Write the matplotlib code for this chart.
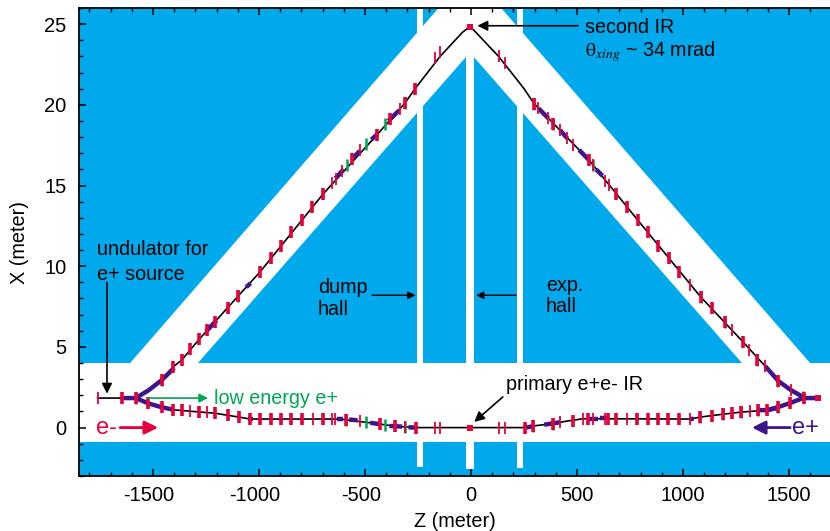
import matplotlib
matplotlib.use('Agg')
import matplotlib.pyplot as plt
from matplotlib.ticker import MultipleLocator
from matplotlib.transforms import ScaledTranslation

plt.rcParams['font.family'] = ['Liberation Sans', 'DejaVu Sans']
plt.rcParams['axes.unicode_minus'] = False

BLUE = '#00A9EC'
RED = '#E4003A'
PURPLE = '#3F1488'
GREEN = '#00A651'

# hall outline (white on blue)
band_z = [-1608, -153, 142, 1599, 1278, 14, -25, -1288]
band_x = [4, 26, 26, 4, 4, 22.95, 22.95, 4]
strip_left = [-255, -226]
strip_mid = [-25, 14]
strip_right = [217, 244]
strip_bottoms = [-2.43, -2.59, -2.5]
floor_band = [-0.88, 4]

# beam lines
lower_z = [-1761, -1582, -1522, -1459, -1404, -1208, -1094, -1042, -618, -556, -457, -358, -259,
           254, 293, 388, 451, 530, 1033, 1080, 1189, 1274, 1396, 1448, 1505, 1566, 1637]
lower_x = [1.83, 1.83, 1.5, 1.26, 1.1, 0.89, 0.65, 0.53, 0.53, 0.42, 0.27, 0.08, 0,
           0, 0.1, 0.25, 0.4, 0.55, 0.53, 0.65, 0.83, 0.96, 1.08, 1.27, 1.52, 1.83, 1.83]
upper_z = [-1582, -1522, -1459, -1404, -1365, -1283, -1097, -995, -698, -445, -311, -264, -146, -40, -5,
           15, 130, 250, 297, 557, 786, 1083, 1282, 1387, 1450, 1509, 1566]
upper_x = [1.83, 2.3, 2.94, 3.77, 4.18, 5.46, 8.17, 9.65, 14.47, 18.12, 20.12, 21, 23, 24.5, 24.85,
           24.6, 23, 21, 20.08, 16.57, 12.86, 8.1, 5.32, 3.81, 2.88, 2.32, 1.9]

# magnets along the beam lines
red_z = [-1648, -1582, -1522, -1459, -1404, -1365, -1283, -1208, -1148, -1094,
         -1042, -995, -945, -896, -849, -799, -699, -591, -429, -358, -259,
         255, 293, 388, 483, 553, 648, 684, 784, 833,
         881, 931, 981, 1080, 1137, 1189, 1231, 1274, 1354, 1396, 1448, 1505, 1570,
         -1459, -1404, -1365, -1325, -1283, -1244, -1208, -1148, -1097, -995, -945, -896, -848, -797,
         -748, -698, -563, -445, -382, -311, -264,
         297, 388, 557, 684, 734, 786, 835, 884, 934,
         981, 1083, 1135, 1198, 1282, 1350, 1450]
red_x = [1.83, 1.83, 1.5, 1.26, 1.1, 1.1, 0.98, 0.89, 0.75, 0.65,
         0.53, 0.53, 0.53, 0.53, 0.53, 0.53, 0.53, 0.5, 0.2, 0.08, 0,
         0, 0.1, 0.25, 0.43, 0.55, 0.55, 0.53, 0.53, 0.53,
         0.53, 0.53, 0.53, 0.65, 0.71, 0.83, 0.9, 0.96, 1.08, 1.08, 1.27, 1.52, 1.83,
         2.94, 3.77, 4.18, 4.86, 5.46, 6.04, 6.52, 7.38, 8.17, 9.65, 10.48, 11.27, 12.09, 12.86,
         13.68, 14.47, 16.62, 18.12, 19.1, 20.12, 21,
         20.08, 18.8, 16.57, 14.47, 13.68, 12.86, 12.09, 11.25, 10.48,
         9.65, 8.1, 7.38, 6.56, 5.32, 4.21, 2.88]
# the narrow ones
thin_red_z = [-1761, -1325, -1247, -747, -657, -641, -523, -311, -170, -146, 134, 160, 420, 530, 577, 632, 734, 1033,
              1316, -657, -637, -608, -524, -335, -170, -146,
              130, 160, 318, 365, 420, 454, 480, 574, 632, 651, 1034, 1233, 1313, 1387, 1509]
thin_red_x = [1.83, 1.03, 0.96, 0.53, 0.53, 0.53, 0.4, 0.03, 0, 0, 0, 0, 0.35, 0.55, 0.55, 0.55, 0.53, 0.53,
              1.02, 15.13, 15.38, 15.89, 17.19, 19.72, 22.9, 23.3,
              23, 22.6, 19.78, 19.16, 18.43, 17.92, 17.5, 16.26, 15.27, 15.03, 8.83, 6.04, 4.83, 3.81, 2.32]
box_z = [-5, -5, 1637]
box_x = [0, 24.85, 1.83]
green_z = [-1582, -591, -495, -406, -311, 293, 388, 1080, 1189, 1274, 1354, 1448,
           -1459, -1097, -586, -495, -406, -311, 297, 388, 574, 1083, 1198, 1350, 1450, 1566]
green_x = [1.83, 0.5, 0.33, 0.18, 0.03, 0.1, 0.25, 0.65, 0.83, 0.96, 1.08, 1.27,
           2.94, 8.17, 16.26, 17.56, 18.8, 20.1, 20.08, 18.8, 16.26, 8.1, 6.56, 4.21, 2.9, 1.9]

# thick purple stretches, each one (z list, x list)
purple_segments = [
    ([-1640, -1582, -1522, -1459, -1400], [1.83, 1.83, 1.5, 1.26, 1.1]),
    ([-1582, -1522, -1459, -1400], [1.83, 2.3, 2.94, 3.7]),
    ([-1250, -1200], [5.95, 6.65]),
    ([-1060, -1040], [8.7, 8.95]),
    ([-640, -600], [15.45, 16.0]),
    ([-555, -525], [16.72, 17.15]),
    ([-470, -440], [17.85, 18.2]),
    ([-390, -340], [19.0, 19.65]),
    ([318, 365], [19.78, 19.16]),
    ([420, 454], [18.43, 17.92]),
    ([510, 557], [17.2, 16.57]),
    ([590, 620], [16.0, 15.6]),
    ([1387, 1450, 1509, 1566], [3.81, 2.88, 2.32, 1.9]),
    ([1637, 1566, 1505, 1448, 1396, 1354], [1.83, 1.83, 1.52, 1.27, 1.08, 1.08]),
    ([-1050, -1030], [0.53, 0.53]),
    ([-630, -605], [0.55, 0.55]),
    ([-575, -535], [0.5, 0.45]),
    ([-475, -435], [0.3, 0.22]),
    ([-385, -325], [0.1, 0.06]),
    ([-295, -265], [0.02, 0]),
    ([260, 290], [0, 0.08]),
    ([345, 420], [0.18, 0.33]),
    ([545, 600], [0.55, 0.55]),
    ([610, 640], [0.6, 0.6]),
    ([1035, 1050], [0.53, 0.55]),
    ([1396, 1440], [1.08, 1.2]),
]

x_major = [-1500, -1000, -500, 0, 500, 1000, 1500]
y_major = [0, 5, 10, 15, 20, 25]


def arrow(ax, start, end, color='black', lw=1.2, scale=15):
    ax.annotate('', xy=end, xytext=start, zorder=6,
                arrowprops=dict(arrowstyle='-|>', color=color, lw=lw, mutation_scale=scale,
                                shrinkA=0, shrinkB=0))


def main():
    fig = plt.figure(figsize=(8.3, 5.31), dpi=100)
    ax = fig.add_axes([79 / 830, (531 - 476) / 531, 751 / 830, 468 / 531])
    ax.set_xlim(-1849, 1693)
    ax.set_ylim(-3, 26)
    ax.set_facecolor(BLUE)

    ax.fill_between([-1849, 1693], floor_band[0], floor_band[1], color='white', lw=0, zorder=1)
    ax.fill(band_z, band_x, color='white', lw=0, zorder=1)
    for strip, bottom in zip([strip_left, strip_mid, strip_right], strip_bottoms):
        ax.fill_between(strip, bottom, 26, color='white', lw=0, zorder=1)

    ax.plot(lower_z, lower_x, color='black', lw=1.2, zorder=2)
    ax.plot(upper_z, upper_x, color='black', lw=1.2, zorder=2)

    for seg_z, seg_x in purple_segments:
        ax.plot(seg_z, seg_x, color=PURPLE, lw=3.2, solid_capstyle='butt', zorder=3)

    ax.plot(green_z, green_x, ls='none', marker='|', ms=8.5, mew=1.8, color=GREEN, zorder=4)
    ax.plot(thin_red_z, thin_red_x, ls='none', marker='|', ms=8.5, mew=1.3, color=RED, zorder=5)
    ax.plot(red_z, red_x, ls='none', marker='|', ms=8.5, mew=2.6, color=RED, zorder=5)
    ax.plot(box_z, box_x, ls='none', marker='s', ms=4.5, mew=0, color=RED, zorder=5)

    ax.set_xticks(x_major)
    ax.set_yticks(y_major)
    ax.xaxis.set_minor_locator(MultipleLocator(100))
    ax.yaxis.set_minor_locator(MultipleLocator(1))
    ax.tick_params(which='major', direction='in', length=5, width=1.1, labelsize=14.5, top=True)
    ax.tick_params(which='minor', direction='in', length=3, width=1, top=True)
    ax.tick_params(axis='x', which='major', pad=7)
    ax.tick_params(axis='y', which='major', pad=9)
    # negative labels sit a little left of their ticks
    shift = ScaledTranslation(-4 / 100, 0, fig.dpi_scale_trans)
    for value, label in zip(x_major, ax.get_xticklabels()):
        if value < 0:
            label.set_transform(label.get_transform() + shift)
    for side in ['left', 'bottom', 'top']:
        ax.spines[side].set_linewidth(1.3)
    ax.spines['right'].set_visible(False)
    ax.set_xlabel('Z (meter)', fontsize=14.3, labelpad=5)
    ax.set_ylabel('X (meter)', fontsize=14.3, labelpad=11)

    size = 14.2
    ax.text(-1765, 11.05, 'undulator for', fontsize=size, va='center', zorder=7)
    ax.text(-1765, 9.5, 'e+ source', fontsize=size, va='center', zorder=7)
    arrow(ax, (-1717, 9.0), (-1717, 2.1))

    ax.text(-722, 8.7, 'dump', fontsize=size, va='center', zorder=7)
    ax.text(-722, 7.3, 'hall', fontsize=size, va='center', zorder=7)
    arrow(ax, (-467, 8.2), (-262, 8.2), lw=1.0, scale=11)

    ax.text(354, 8.8, 'exp.', fontsize=size, va='center', zorder=7)
    ax.text(354, 7.5, 'hall', fontsize=size, va='center', zorder=7)
    arrow(ax, (212, 8.2), (24, 8.2), lw=1.0, scale=11)

    ax.text(536, 24.8, 'second IR', fontsize=size, va='center', zorder=7)
    ax.text(536, 23.3, r'$\mathrm{\theta}_{xing}$ ~ 34 mrad', fontsize=size, va='center', zorder=7,
            math_fontfamily='stix')
    arrow(ax, (505, 24.9), (30, 24.9))

    ax.text(165, 2.7, 'primary e+e- IR', fontsize=size, va='center', zorder=7)
    arrow(ax, (150, 1.9), (15, 0.35))

    ax.text(-1212, 1.83, 'low energy e+', fontsize=size, color=GREEN, va='center', zorder=7)
    arrow(ax, (-1528, 1.83), (-1240, 1.83), color=GREEN, lw=1.2, scale=13)

    ax.text(-1769, 0, 'e-', fontsize=17, color=RED, va='center', zorder=7)
    arrow(ax, (-1655, 0), (-1476, 0), color=RED, lw=2.0, scale=20)

    ax.text(1514, 0, 'e+', fontsize=17, color=PURPLE, va='center', zorder=7)
    arrow(ax, (1505, 0), (1325, 0), color=PURPLE, lw=2.0, scale=20)

    fig.savefig('out.png', dpi=100)


if __name__ == "__main__":
    main()
